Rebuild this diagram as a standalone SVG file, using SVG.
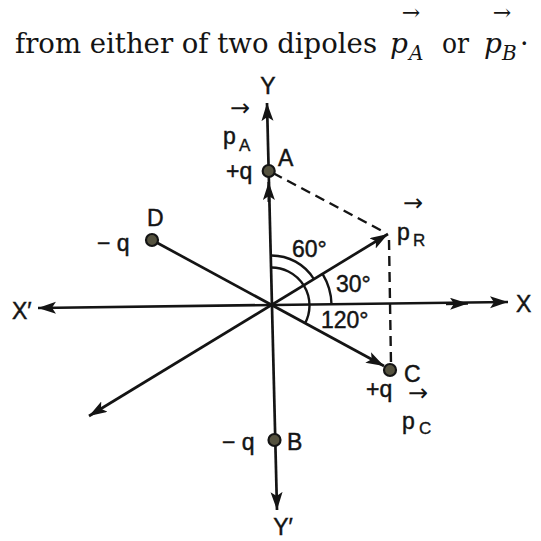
<svg xmlns="http://www.w3.org/2000/svg" width="541" height="541" viewBox="0 0 541 541">
<defs>
<style>
.ln{stroke:#141414;stroke-width:2.7;fill:none}
.dash{stroke:#141414;stroke-width:2.4;fill:none;stroke-dasharray:10 6}
.arc{stroke:#141414;stroke-width:2.4;fill:none}
.dot{fill:#55523f;stroke:#141414;stroke-width:2.2}
.t{font-family:"Liberation Sans",Arial,sans-serif;fill:#141414;stroke:#141414;stroke-width:0.45;font-size:23px}
.s{font-family:"Liberation Sans",Arial,sans-serif;fill:#141414;stroke:#141414;stroke-width:0.35;font-size:17px}
.v{font-family:"DejaVu Sans","Liberation Sans",sans-serif;fill:#141414;font-size:24px}
.h{font-family:"DejaVu Serif","Liberation Serif",serif;fill:#141414;font-size:27px}
.hi{font-family:"DejaVu Serif","Liberation Serif",serif;font-style:italic;fill:#141414}
.ha{font-family:"DejaVu Serif","Liberation Serif",serif;fill:#141414;font-size:22px}
</style>
<marker id="ah" markerUnits="userSpaceOnUse" markerWidth="20" markerHeight="14" refX="18" refY="6" orient="auto-start-reverse">
<path d="M0,0 L18,6 L0,12 L4,6 z" fill="#141414"/>
</marker>
</defs>
<rect width="541" height="541" fill="#ffffff"/>

<g id="heading">
<text class="h" x="15" y="53" textLength="362" lengthAdjust="spacingAndGlyphs">from either of two dipoles</text>
<text class="hi" x="390" y="53" font-size="28">p</text>
<text class="hi" x="409" y="60" font-size="20">A</text>
<text class="ha" x="411" y="20" text-anchor="middle">→</text>
<text class="h" x="442" y="53" textLength="27" lengthAdjust="spacingAndGlyphs">or</text>
<text class="hi" x="484" y="53" font-size="28">p</text>
<text class="hi" x="502" y="60" font-size="20">B</text>
<text class="ha" x="502" y="20" text-anchor="middle">→</text>
<text class="h" x="520" y="53">·</text>
</g>

<g id="connectors">
<line id="y-axis" class="ln" x1="277" y1="510" x2="267" y2="103" marker-start="url(#ah)" marker-end="url(#ah)"/>
<line class="ln" x1="268.9" y1="202" x2="268.7" y2="182" marker-end="url(#ah)"/>
<line id="x-axis" class="ln" x1="38" y1="308" x2="508" y2="302" marker-start="url(#ah)" marker-end="url(#ah)"/>
<line class="ln" x1="446" y1="303.8" x2="468" y2="303.5" marker-end="url(#ah)"/>
<line id="dc-line" class="ln" x1="152" y1="240" x2="384" y2="366" marker-end="url(#ah)"/>
<line id="resultant-line" class="ln" x1="89" y1="416" x2="388" y2="234" marker-start="url(#ah)" marker-end="url(#ah)"/>
<line class="dash" x1="273" y1="173" x2="386" y2="233"/>
<line class="dash" x1="389" y1="240" x2="391" y2="364"/>
<path class="arc" d="M270.5,255.5 A50,50 0 0 1 314.2,279.5"/>
<path class="arc" d="M322.8,274.3 A60,60 0 0 1 331.5,304.3"/>
<path class="arc" d="M270.6,267.5 A38,38 0 0 1 304.9,323.6"/>
</g>

<g id="axis-labels">
<text class="t" x="268" y="94" font-size="25" text-anchor="middle">Y</text>
<text class="t" x="283" y="535" font-size="23" text-anchor="middle">Y′</text>
<text class="t" x="516" y="312" font-size="25">X</text>
<text class="t" x="12" y="319" font-size="24">X′</text>
</g>

<g id="node-A">
<circle class="dot" cx="268.7" cy="171" r="6"/>
<text class="t" x="278" y="166" font-size="21">A</text>
<text class="t" x="226" y="179">+q</text>
<text class="t" x="223" y="144" font-size="27">p</text>
<text class="s" x="239" y="151">A</text>
<text class="v" x="240" y="116" text-anchor="middle">→</text>
</g>

<g id="node-B">
<circle class="dot" cx="274.5" cy="440" r="6"/>
<text class="t" x="287" y="450" font-size="22">B</text>
<text class="t" x="222" y="450">− q</text>
</g>

<g id="node-C">
<circle class="dot" cx="390" cy="370" r="6"/>
<text class="t" x="404" y="382" font-size="24">C</text>
<text class="t" x="366" y="397">+q</text>
<text class="v" x="418" y="401" text-anchor="middle">→</text>
<text class="t" x="402" y="429" font-size="27">p</text>
<text class="s" x="419" y="434">C</text>
</g>

<g id="node-D">
<circle class="dot" cx="152" cy="240" r="6"/>
<text class="t" x="147" y="226" font-size="22">D</text>
<text class="t" x="97" y="251">− q</text>
</g>

<g id="node-R">
<text class="t" x="397" y="240" font-size="27">p</text>
<text class="s" x="413" y="246">R</text>
<text class="v" x="413" y="211" text-anchor="middle">→</text>
</g>

<g id="angles">
<text class="t" x="292" y="257" font-size="25">60°</text>
<text class="t" x="336" y="292" font-size="25">30°</text>
<text class="t" x="321" y="328" font-size="25">120°</text>
</g>
</svg>
